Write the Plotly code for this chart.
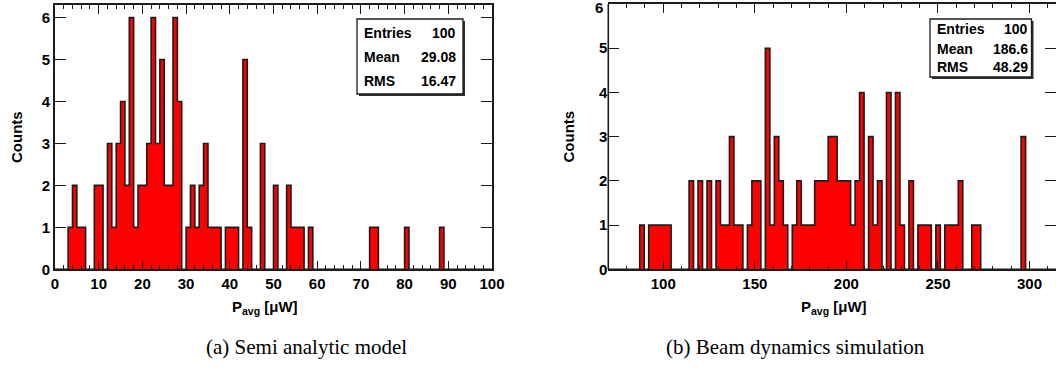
import numpy as np
import plotly.graph_objects as go

W, H = 1056, 372

# ---------------- data ----------------
left_counts = [
    0, 0, 0, 1, 2, 1, 1, 0, 0, 2,
    2, 0, 3, 1, 3, 4, 2, 6, 1, 2,
    2, 3, 6, 3, 5, 2, 2, 6, 4, 0,
    1, 2, 1, 2, 3, 1, 1, 1, 0, 1,
    1, 1, 0, 5, 1, 0, 0, 3, 0, 0,
    2, 0, 0, 2, 1, 1, 1, 0, 1, 0,
    0, 0, 0, 0, 0, 0, 0, 0, 0, 0,
    0, 0, 1, 1, 0, 0, 0, 0, 0, 0,
    1, 0, 0, 0, 0, 0, 0, 0, 1, 0,
    0, 0, 0, 0, 0, 0, 0, 0, 0, 0,
]
left_xmin, left_xmax = 0, 100

right_counts = [
    0, 0, 0, 0, 0, 0, 0, 1, 0, 1,
    1, 1, 1, 1, 0, 0, 0, 0, 2, 0,
    2, 0, 2, 0, 2, 1, 1, 3, 1, 1,
    0, 1, 2, 2, 0, 5, 1, 3, 2, 1,
    0, 1, 2, 1, 1, 1, 2, 2, 2, 3,
    3, 2, 2, 2, 1, 2, 4, 0, 3, 1,
    2, 0, 4, 0, 4, 1, 0, 2, 0, 1,
    1, 1, 0, 1, 0, 1, 1, 1, 2, 0,
    0, 1, 1, 0, 0, 0, 0, 0, 0, 0,
    0, 0, 3, 0, 0, 0, 0, 0, 0, 0,
]
right_xmin, right_xmax = 70, 315

left_stat_names = ["Entries", "Mean", "RMS"]
left_stat_values = ["100", "29.08", "16.47"]
right_stat_names = ["Entries", "Mean", "RMS"]
right_stat_values = ["100", "186.6", "48.29"]

left_xticks = [0, 10, 20, 30, 40, 50, 60, 70, 80, 90, 100]
right_xticks = [100, 150, 200, 250, 300]
y_ticks = [0, 1, 2, 3, 4, 5, 6]
y_ticklabels = ["0", "1", "2", "3", "4", "5", "6"]

x_title = "P<sub>avg</sub> [μW]"
y_title = "Counts"
captions = ["(a) Semi analytic model", "(b) Beam dynamics simulation"]

# ---------------- helpers ----------------
def fx(px):
    return px / W

def fy(py):
    return 1 - py / H

FONT = "Liberation Sans"
RED = "#ff0000"
EDGE = "#1c1c1c"


def step_trace(counts, xmin, xmax, xa, ya):
    n = len(counts)
    edges = np.linspace(xmin, xmax, n + 1)
    xs = [edges[0]] + list(edges)
    ys = [0] + list(counts) + [0]
    return go.Scatter(
        x=xs, y=ys, xaxis=xa, yaxis=ya, mode="lines",
        line=dict(shape="hv", color=EDGE, width=1.6),
        fill="tozeroy", fillcolor=RED, hoverinfo="skip", showlegend=False,
    )


fig = go.Figure()
fig.add_trace(step_trace(left_counts, left_xmin, left_xmax, "x", "y"))
fig.add_trace(step_trace(right_counts, right_xmin, right_xmax, "x2", "y2"))

tickfont = dict(family=FONT, size=15, color="black", weight="bold")

# plot frames (pixels)
L = dict(x0=55, x1=492, y0=5, y1=269.3)
R = dict(x0=608.3, x1=1057, y0=4, y1=269.3)
r_ppu = (R["x1"] - R["x0"]) / (right_xmax - right_xmin)
r_vis_max = right_xmin + (W - R["x0"]) / r_ppu

common_x = dict(
    showgrid=False, zeroline=False, showline=True, linecolor=EDGE, linewidth=1.6,
    ticks="inside", ticklen=9, tickwidth=1.2, tickcolor=EDGE,
    tickfont=tickfont, tickmode="array", automargin=False, ticklabeloverflow="allow",
)
common_y = dict(
    showgrid=False, zeroline=False, linecolor=EDGE, linewidth=1.6,
    ticks="inside", ticklen=11, tickwidth=1.2, tickcolor=EDGE,
    tickfont=tickfont, tickmode="array", tickvals=y_ticks, automargin=False,
    mirror="allticks", ticklabeloverflow="allow",
)

# the top label of the right panel sits slightly lower (drawn as a separate text)
right_ylabels = y_ticklabels[:-1] + [""]

fig.update_layout(
    width=W, height=H,
    margin=dict(l=0, r=0, t=0, b=0, pad=0, autoexpand=False),
    paper_bgcolor="white", plot_bgcolor="white",
    showlegend=False,
    xaxis=dict(
        **common_x, domain=[fx(L["x0"]), fx(L["x1"])], range=[left_xmin, left_xmax],
        anchor="y", tickvals=left_xticks, mirror="allticks",
        minor=dict(dtick=2, tick0=0, ticks="inside", ticklen=4.5, tickwidth=1.2, tickcolor=EDGE, showgrid=False),
    ),
    yaxis=dict(
        **common_y, showline=True, domain=[fy(L["y1"]), fy(L["y0"])], range=[0, 6.3],
        anchor="x", ticktext=y_ticklabels,
    ),
    xaxis2=dict(
        **common_x, domain=[fx(R["x0"]), 1.0], range=[right_xmin, r_vis_max],
        anchor="y2", tickvals=right_xticks, mirror="allticks",
        minor=dict(dtick=10, tick0=0, ticks="inside", ticklen=4, tickwidth=1.2, tickcolor=EDGE, showgrid=False),
    ),
    yaxis2=dict(
        **common_y, showline=False, domain=[fy(R["y1"]), fy(R["y0"])], range=[0, 6.0001],
        anchor="x2", ticktext=right_ylabels,
    ),
)

annotations = []
shapes = []

# left spine of the right frame (its right spine lies just outside the page)
shapes.append(dict(type="line", xref="x2 domain", yref="y2 domain",
                   x0=0, x1=0, y0=0, y1=1, line=dict(color=EDGE, width=1.6), layer="above"))

annotations.append(dict(
    x=0, y=1, xref="x2 domain", yref="y2 domain", text=y_ticklabels[-1],
    showarrow=False, font=tickfont, xanchor="right", yanchor="middle",
    xshift=-3, yshift=-4,
))

title_font = dict(family=FONT, size=15, color="black", weight="bold")

# axis titles
for cx in (16, 567.5):
    annotations.append(dict(
        x=fx(cx), y=fy(137), xref="paper", yref="paper", text=y_title,
        textangle=-90, showarrow=False, font=title_font,
        xanchor="center", yanchor="middle",
    ))
for cx in (265, 834):
    annotations.append(dict(
        x=fx(cx), y=fy(307), xref="paper", yref="paper", text=x_title,
        showarrow=False, font=title_font, xanchor="center", yanchor="middle",
    ))

# captions
cap_font = dict(family="Liberation Serif", size=21, color="black")
for cx, txt in zip((306, 795), captions):
    annotations.append(dict(
        x=fx(cx), y=fy(347), xref="paper", yref="paper", text=txt,
        showarrow=False, font=cap_font, xanchor="center", yanchor="middle",
    ))

# stats boxes
stat_font = dict(family=FONT, size=14, color="black", weight="bold")


def stats_box(bx0, bx1, by0, by1, tl, tr, rows, names, values):
    shapes.append(dict(type="rect", xref="paper", yref="paper",
                       x0=fx(bx0 + 2), x1=fx(bx1 + 2), y0=fy(by1 + 2), y1=fy(by0 + 2),
                       line=dict(width=0), fillcolor="#303030", layer="above"))
    shapes.append(dict(type="rect", xref="paper", yref="paper",
                       x0=fx(bx0), x1=fx(bx1), y0=fy(by1), y1=fy(by0),
                       line=dict(width=1.3, color=EDGE), fillcolor="white", layer="above"))
    for ry, nm, val in zip(rows, names, values):
        annotations.append(dict(x=fx(tl), y=fy(ry), xref="paper", yref="paper", text=nm,
                                showarrow=False, font=stat_font, xanchor="left", yanchor="middle"))
        annotations.append(dict(x=fx(tr), y=fy(ry), xref="paper", yref="paper", text=val,
                                showarrow=False, font=stat_font, xanchor="right", yanchor="middle"))


stats_box(357, 463, 19, 94, 362, 458, (33.3, 57.3, 81), left_stat_names, left_stat_values)
stats_box(930, 1031.5, 19, 77, 935, 1030, (29.3, 49, 66.7), right_stat_names, right_stat_values)

fig.update_layout(annotations=annotations, shapes=shapes)

fig.write_html(
    "out.html",
    config={"displayModeBar": False},
    post_script="document.body.style.margin='0';document.body.style.padding='0';"
                "document.body.style.overflow='hidden';",
)
